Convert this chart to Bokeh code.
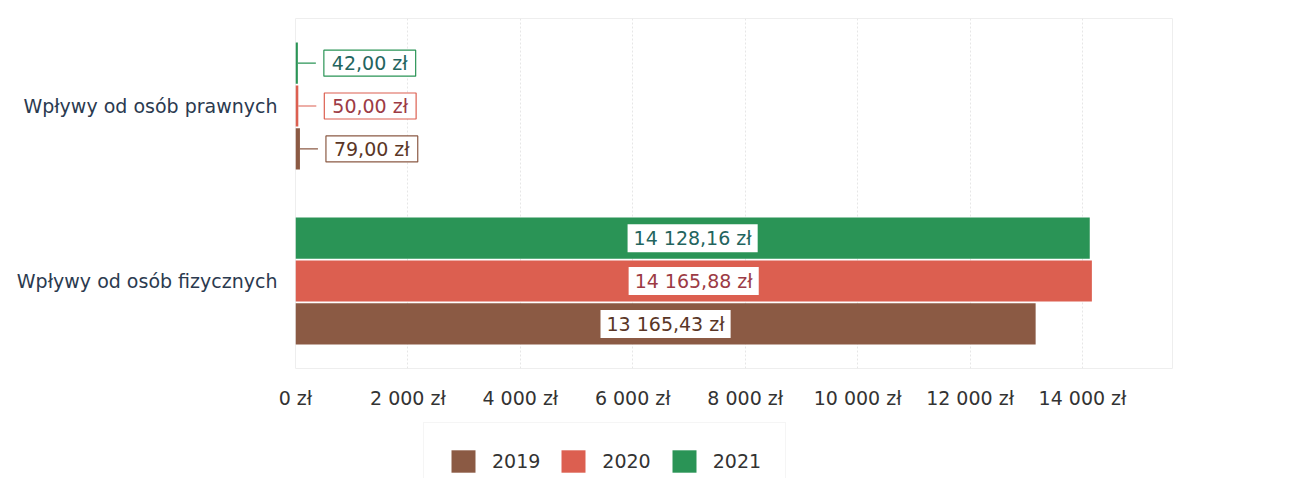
from bokeh.plotting import figure
from bokeh.layouts import column
from bokeh.models import (FactorRange, Range1d, FixedTicker, ColumnDataSource,
                          Legend, LegendItem)
from bokeh.transform import dodge
from bokeh.embed import file_html
from bokeh.resources import INLINE
from bokeh.core.properties import value

# ---- data ----
categories = ["Wpływy od osób fizycznych", "Wpływy od osób prawnych"]
years = ["2019", "2020", "2021"]
values_2019 = [13165.43, 79.00]
values_2020 = [14165.88, 50.00]
values_2021 = [14128.16, 42.00]
tick_values = [0, 2000, 4000, 6000, 8000, 10000, 12000, 14000]
tick_labels = ["0 zł", "2 000 zł", "4 000 zł", "6 000 zł", "8 000 zł",
               "10 000 zł", "12 000 zł", "14 000 zł"]

# ---- styles ----
colors = ["#8b5a44", "#dc5f50", "#2a9456"]
text_colors = ["#5a3626", "#9c3b45", "#23645e"]
offsets = [-0.245, 0.0, 0.245]
FONT = "DejaVu Sans"
FS = "19px"
X_END = 15600
FRAME_W = 877
LEADER_PX = 18


def fmt(v):
    whole, frac = f"{v:.2f}".split(".")
    whole = f"{int(whole):,}".replace(",", " ")
    return f"{whole},{frac} zł"


p = figure(width=1290, height=418, output_backend="svg", toolbar_location=None,
           y_range=FactorRange(factors=categories, range_padding=0),
           x_range=Range1d(0, X_END))
p.min_border_left = 295
p.min_border_right = 118
p.min_border_top = 18
p.min_border_bottom = 50
p.outline_line_color = "#eeeeee"
p.background_fill_color = "white"

p.xgrid.ticker = FixedTicker(ticks=tick_values)
p.xgrid.grid_line_color = "#e6e6e6"
p.xgrid.grid_line_dash = "2 2"
p.ygrid.grid_line_color = None

xa = p.xaxis[0]
xa.ticker = FixedTicker(ticks=tick_values)
xa.major_label_overrides = {t: l for t, l in zip(tick_values, tick_labels)}
xa.axis_line_color = None
xa.major_tick_line_color = None
xa.minor_tick_line_color = None
xa.major_label_standoff = 12
xa.major_label_text_font = FONT
xa.major_label_text_font_size = FS
xa.major_label_text_color = "#333333"

ya = p.yaxis[0]
ya.axis_line_color = None
ya.major_tick_line_color = None
ya.minor_tick_line_color = None
ya.major_label_standoff = 12
ya.major_label_text_font = FONT
ya.major_label_text_font_size = FS
ya.major_label_text_color = "#2b3a4f"

# legend-only figure below the chart; its ranges hold none of the bars
p2 = figure(width=1290, height=60, output_backend="svg", toolbar_location=None,
            x_axis_location=None, y_axis_location=None,
            x_range=Range1d(0, 1), y_range=FactorRange(factors=["legend"]))
p2.min_border_left = 0
p2.min_border_right = 0
p2.min_border_top = 0
p2.min_border_bottom = 0
p2.outline_line_color = None
p2.xgrid.grid_line_color = None
p2.ygrid.grid_line_color = None

legend_items = []
series = [values_2019, values_2020, values_2021]
for i, (yr, vals) in enumerate(zip(years, series)):
    src = ColumnDataSource(dict(cat=categories, val=vals))
    p.hbar(y=dodge("cat", offsets[i], range=p.y_range), left=0, right="val",
           height=0.235, source=src, fill_color=colors[i], line_color=None)
    lr = p2.hbar(y="cat", left=0, right="val", height=0.235, source=src,
                 fill_color=colors[i], line_color=None)
    legend_items.append(LegendItem(label=yr, renderers=[lr]))

    big = [j for j, v in enumerate(vals) if v >= 2000]
    small = [j for j, v in enumerate(vals) if v < 2000]
    if big:
        sb = ColumnDataSource(dict(cat=[categories[j] for j in big],
                                   x=[vals[j] / 2 for j in big],
                                   lab=[fmt(vals[j]) for j in big]))
        p.text(x="x", y=dodge("cat", offsets[i], range=p.y_range), text="lab",
               source=sb, text_align="center", text_baseline="middle",
               text_font=value(FONT), text_font_size=FS,
               text_color=text_colors[i], background_fill_color="white",
               border_line_color=None,
               padding=dict(left=6, right=6, top=3, bottom=3))
    if small:
        lead = LEADER_PX * X_END / FRAME_W
        ss = ColumnDataSource(dict(cat=[categories[j] for j in small],
                                   x=[vals[j] for j in small],
                                   x1=[vals[j] + lead for j in small],
                                   lab=[fmt(vals[j]) for j in small]))
        p.segment(x0="x", y0=dodge("cat", offsets[i], range=p.y_range),
                  x1="x1", y1=dodge("cat", offsets[i], range=p.y_range),
                  source=ss, line_color=colors[i], line_width=1.2)
        p.text(x="x1", y=dodge("cat", offsets[i], range=p.y_range), text="lab",
               source=ss, x_offset=8, text_align="left", text_baseline="middle",
               text_font=value(FONT), text_font_size=FS,
               text_color=text_colors[i], background_fill_color="white",
               border_line_color=colors[i], border_line_width=1.2,
               padding=dict(left=8, right=8, top=2, bottom=2))

legend = Legend(items=legend_items, orientation="horizontal",
                location=(128, -22))
legend.glyph_width = 30
legend.glyph_height = 28
legend.label_text_font = FONT
legend.label_text_font_size = FS
legend.label_text_color = "#333333"
legend.label_standoff = 14
legend.spacing = 18
legend.padding = 24
legend.margin = 0
legend.border_line_color = "#ebebeb"
legend.background_fill_color = "white"
p2.add_layout(legend, "center")

layout = column(p, p2, spacing=0)
open("out.html", "w").write(file_html(layout, INLINE))
